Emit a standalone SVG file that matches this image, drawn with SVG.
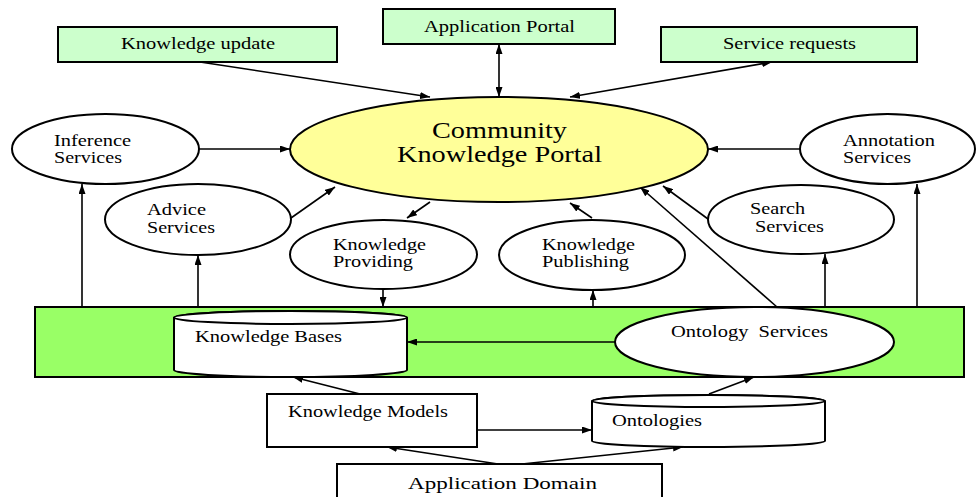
<svg xmlns="http://www.w3.org/2000/svg" width="977" height="497" viewBox="0 0 977 497">
  <defs>
    <marker id="arrow" viewBox="0 0 10 7" refX="10" refY="3.5" markerWidth="10" markerHeight="7" markerUnits="userSpaceOnUse" orient="auto-start-reverse">
      <path d="M0,0 L10,3.5 L0,7 Z" fill="#000"/>
    </marker>
    <style>
      .box { fill: #ccffcc; stroke: #000; stroke-width: 2; }
      .plain { fill: #fff; stroke: #000; stroke-width: 2; }
      .oval { fill: #fff; stroke: #000; stroke-width: 2; }
      .band { fill: #99ff66; stroke: #000; stroke-width: 2; }
      .portal { fill: #ffff99; stroke: #000; stroke-width: 2; }
      .conn line, .conn path { stroke: #000; stroke-width: 1.6; fill: none; marker-end: url(#arrow); }
      .conn .both { marker-start: url(#arrow); }
      .conn .noarrow { marker-end: none; }
      text { font-family: "Liberation Serif", "Times New Roman", serif; font-size: 17.5px; fill: #000; }
      text.big { font-size: 24px; }
    </style>
  </defs>

  <rect width="977" height="497" fill="#fff"/>

  <!-- service layer band -->
  <g id="service-layer">
    <rect class="band" x="35" y="307" width="929" height="70"/>
  </g>

  <!-- connectors -->
  <g id="connectors" class="conn">
    <line x1="200" y1="62" x2="430" y2="97"/>
    <line class="both" x1="499" y1="44" x2="499" y2="97"/>
    <line class="both" x1="772" y1="62" x2="570" y2="97"/>
    <line x1="199" y1="149" x2="290" y2="149"/>
    <line x1="800" y1="149" x2="708" y2="149"/>
    <line x1="291" y1="218" x2="335" y2="187"/>
    <line x1="430" y1="202" x2="407" y2="218"/>
    <line x1="592" y1="218" x2="570" y2="203"/>
    <line x1="708" y1="219" x2="663" y2="186"/>
    <line x1="777" y1="307" x2="640" y2="187"/>
    <line x1="82" y1="307" x2="82" y2="184"/>
    <line x1="198" y1="307" x2="198" y2="255"/>
    <line x1="383" y1="289" x2="383" y2="307"/>
    <line x1="593" y1="307" x2="593" y2="290"/>
    <line x1="825" y1="307" x2="825" y2="254"/>
    <line x1="917" y1="307" x2="917" y2="184"/>
    <line x1="615" y1="342" x2="407" y2="342"/>
    <line x1="360" y1="394" x2="293" y2="377"/>
    <line x1="477" y1="430" x2="592" y2="430"/>
    <line x1="709" y1="394" x2="754" y2="377"/>
    <line x1="498" y1="464" x2="387" y2="447"/>
    <line x1="522" y1="464" x2="683" y2="447"/>
  </g>

  <!-- top boxes -->
  <g id="knowledge-update">
    <rect class="box" x="58" y="27" width="279" height="35"/>
    <text x="121" y="49" textLength="154" lengthAdjust="spacingAndGlyphs">Knowledge update</text>
  </g>
  <g id="application-portal">
    <rect class="box" x="383" y="9" width="232" height="35"/>
    <text x="424" y="32" textLength="151" lengthAdjust="spacingAndGlyphs">Application Portal</text>
  </g>
  <g id="service-requests">
    <rect class="box" x="661" y="27" width="256" height="35"/>
    <text x="723" y="49" textLength="133" lengthAdjust="spacingAndGlyphs">Service requests</text>
  </g>

  <!-- central portal -->
  <g id="community-portal">
    <ellipse class="portal" cx="499" cy="149.5" rx="209" ry="52.5"/>
    <text class="big" x="432" y="138" textLength="135" lengthAdjust="spacingAndGlyphs">Community</text>
    <text class="big" x="397" y="162" textLength="205" lengthAdjust="spacingAndGlyphs">Knowledge Portal</text>
  </g>

  <!-- services -->
  <g id="inference-services">
    <ellipse class="oval" cx="105.5" cy="149" rx="93.5" ry="35"/>
    <text x="54" y="146" textLength="77" lengthAdjust="spacingAndGlyphs">Inference</text>
    <text x="54" y="163" textLength="68" lengthAdjust="spacingAndGlyphs">Services</text>
  </g>
  <g id="advice-services">
    <ellipse class="oval" cx="198" cy="219.5" rx="93" ry="35.5"/>
    <text x="147" y="215" textLength="59" lengthAdjust="spacingAndGlyphs">Advice</text>
    <text x="147" y="233" textLength="68" lengthAdjust="spacingAndGlyphs">Services</text>
  </g>
  <g id="knowledge-providing">
    <ellipse class="oval" cx="383.5" cy="254.5" rx="93.5" ry="34.5"/>
    <text x="333" y="250" textLength="93" lengthAdjust="spacingAndGlyphs">Knowledge</text>
    <text x="333" y="267" textLength="80" lengthAdjust="spacingAndGlyphs">Providing</text>
  </g>
  <g id="knowledge-publishing">
    <ellipse class="oval" cx="592" cy="255" rx="93" ry="35"/>
    <text x="542" y="250" textLength="93" lengthAdjust="spacingAndGlyphs">Knowledge</text>
    <text x="542" y="267" textLength="87" lengthAdjust="spacingAndGlyphs">Publishing</text>
  </g>
  <g id="search-services">
    <ellipse class="oval" cx="801" cy="219.5" rx="93" ry="34.5"/>
    <text x="750" y="214" textLength="55" lengthAdjust="spacingAndGlyphs">Search</text>
    <text x="755" y="232" textLength="69" lengthAdjust="spacingAndGlyphs">Services</text>
  </g>
  <g id="annotation-services">
    <ellipse class="oval" cx="887.5" cy="149" rx="87.5" ry="35"/>
    <text x="843" y="146" textLength="92" lengthAdjust="spacingAndGlyphs">Annotation</text>
    <text x="843" y="163" textLength="68" lengthAdjust="spacingAndGlyphs">Services</text>
  </g>

  <!-- stores and services in the band -->
  <g id="knowledge-bases">
    <path class="plain" d="M174,317.5 L174,370 A116.5,7 0 0 0 407,370 L407,317.5 A116.5,6.5 0 0 0 174,317.5 Z"/>
    <ellipse class="plain" cx="290.5" cy="317.5" rx="116.5" ry="6.5"/>
    <text x="195" y="342" textLength="147" lengthAdjust="spacingAndGlyphs">Knowledge Bases</text>
  </g>
  <g id="ontology-services">
    <ellipse class="oval" cx="754.5" cy="342" rx="139.5" ry="35"/>
    <text x="671" y="337" textLength="157" lengthAdjust="spacingAndGlyphs" xml:space="preserve">Ontology  Services</text>
  </g>

  <!-- lower layer -->
  <g id="knowledge-models">
    <rect class="plain" x="267" y="394" width="210" height="53"/>
    <text x="288" y="417" textLength="160" lengthAdjust="spacingAndGlyphs">Knowledge Models</text>
  </g>
  <g id="ontologies">
    <path class="plain" d="M592,401 L592,441 A116.5,6 0 0 0 825,441 L825,401 A116.5,6 0 0 0 592,401 Z"/>
    <ellipse class="plain" cx="708.5" cy="401" rx="116.5" ry="6"/>
    <text x="612" y="426" textLength="90" lengthAdjust="spacingAndGlyphs">Ontologies</text>
  </g>
  <g id="application-domain">
    <rect class="plain" x="337" y="464" width="325" height="50"/>
    <text x="408" y="489" textLength="189" lengthAdjust="spacingAndGlyphs">Application Domain</text>
  </g>
</svg>
